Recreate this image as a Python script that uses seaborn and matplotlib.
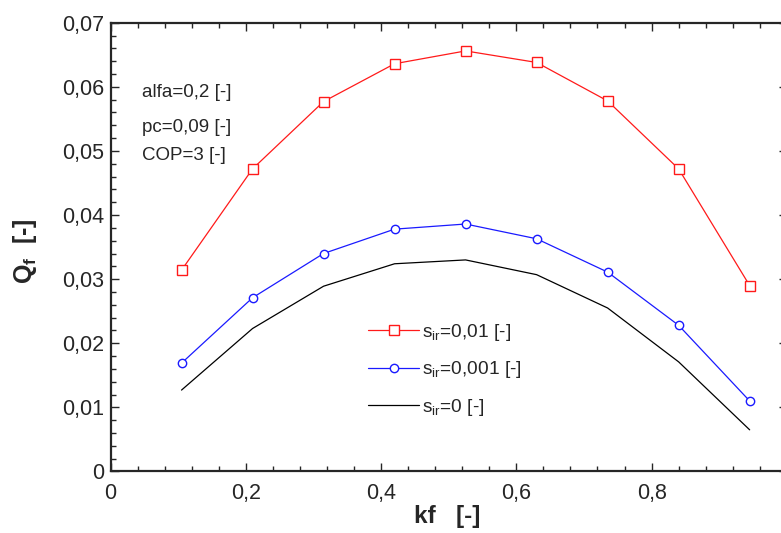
import matplotlib
matplotlib.use('Agg')
import matplotlib.pyplot as plt
from matplotlib.ticker import FuncFormatter, MultipleLocator
import numpy as np
import pandas as pd
import seaborn as sns

# datos
kf = [0.105, 0.21, 0.315, 0.42, 0.525, 0.63, 0.735, 0.84, 0.945]
q_s001 = [0.0314, 0.0472, 0.0577, 0.0636, 0.0656, 0.0638, 0.0578, 0.0472, 0.0290]
q_s0001 = [0.0169, 0.0271, 0.0340, 0.0378, 0.0386, 0.0363, 0.0311, 0.0228, 0.0110]
q_s0 = [0.0127, 0.0223, 0.0289, 0.0324, 0.0330, 0.0307, 0.0255, 0.0171, 0.0065]

etiquetas = [r's$_{\mathrm{ir}}$=0,01 [-]', r's$_{\mathrm{ir}}$=0,001 [-]', r's$_{\mathrm{ir}}$=0 [-]']
notas = ['alfa=0,2 [-]', 'pc=0,09 [-]', 'COP=3 [-]']

sns.set_style('ticks')
plt.rcParams['font.family'] = ['Liberation Sans', 'DejaVu Sans']
plt.rcParams['mathtext.fontset'] = 'custom'
plt.rcParams['mathtext.rm'] = 'Liberation Sans'
plt.rcParams['mathtext.it'] = 'Liberation Sans:italic'
plt.rcParams['mathtext.bf'] = 'Liberation Sans:bold'

df = pd.DataFrame({'kf': kf, 's001': q_s001, 's0001': q_s0001, 's0': q_s0})

fig = plt.figure(figsize=(7.81, 5.33), dpi=100)
ax = fig.add_axes([0.1415, 0.1154, 0.866, 0.842])

sns.lineplot(data=df, x='kf', y='s001', ax=ax, color='#ff1a1a', lw=0.9,
             marker='s', markersize=7, markerfacecolor='white',
             markeredgecolor='#ff1a1a', markeredgewidth=1.0, label=etiquetas[0])
sns.lineplot(data=df, x='kf', y='s0001', ax=ax, color='#1a1aff', lw=0.9,
             marker='o', markersize=6, markerfacecolor='white',
             markeredgecolor='#1a1aff', markeredgewidth=1.0, label=etiquetas[1])
sns.lineplot(data=df, x='kf', y='s0', ax=ax, color='black', lw=0.9, label=etiquetas[2])

ax.set_xlim(0, 1)
ax.set_ylim(0, 0.07)
ax.set_xticks([0, 0.2, 0.4, 0.6, 0.8])
ax.set_yticks(np.arange(0, 0.0701, 0.01))
ax.xaxis.set_minor_locator(MultipleLocator(0.04))
ax.yaxis.set_minor_locator(MultipleLocator(0.002))

def coma(v, pos):
    if abs(v) < 1e-9:
        return '0'
    return ('%g' % round(v, 4)).replace('.', ',')

ax.xaxis.set_major_formatter(FuncFormatter(coma))
ax.yaxis.set_major_formatter(FuncFormatter(coma))

for s in ax.spines.values():
    s.set_visible(True)
    s.set_linewidth(1.6)
ax.tick_params(which='both', direction='in', top=True, right=True, width=1.0, labelsize=15.5)
ax.tick_params(which='major', length=6)
ax.tick_params(which='minor', length=3.5)
ax.tick_params(axis='x', which='major', pad=8)
ax.tick_params(axis='y', which='major', pad=4.5)

ax.set_xlabel('kf   [-]', fontsize=17.5, fontweight='bold')
ax.set_ylabel(r'$\mathbf{Q_f}$  [-]', fontsize=18, fontweight='bold')
ax.xaxis.set_label_coords(0.498, -0.101)
ax.xaxis.label.set_verticalalignment('center')
ax.yaxis.set_label_coords(-0.126, 0.491)
ax.yaxis.label.set_verticalalignment('center')

ys = [0.835, 0.757, 0.694]
for t, y in zip(notas, ys):
    ax.text(0.046, y, t, transform=ax.transAxes, fontsize=13.5, va='baseline', ha='left')

ax.legend(loc='upper left', bbox_to_anchor=(0.37, 0.35), frameon=False,
          fontsize=13.8, handlelength=2.65, handletextpad=0.15, labelspacing=0.85,
          borderaxespad=0)

fig.savefig('out.png', dpi=100)
